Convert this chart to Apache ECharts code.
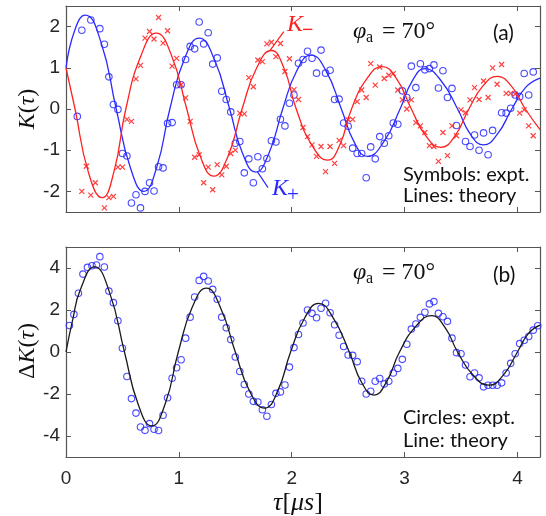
<!DOCTYPE html>
<html>
<head>
<meta charset="utf-8">
<script src="https://cdn.jsdelivr.net/npm/echarts@6/dist/echarts.min.js"></script>
<style>
  html, body { margin: 0; padding: 0; background: #fff; }
  #main { width: 546px; height: 516px; }
</style>
</head>
<body>
<div id="main"></div>
<script>
// ---- panel (a): experiment, K+ (circles) ----
var tauPlusExpt = [0.10,0.14,0.22,0.30,0.34,0.38,0.42,0.46,0.50,0.54,0.58,0.62,0.66,0.70,0.74,0.78,0.82,0.86,0.90,0.94,
  0.98,1.02,1.06,1.10,1.14,1.18,1.22,1.26,1.30,1.34,1.38,1.42,1.46,1.50,1.54,1.58,1.62,1.66,1.70,1.74,
  1.78,1.82,1.86,1.90,1.94,1.98,2.02,2.06,2.10,2.14,2.18,2.22,2.26,2.30,2.34,2.38,2.42,2.46,2.50,2.54,
  2.58,2.62,2.66,2.70,2.74,2.78,2.82,2.86,2.90,2.94,2.98,3.02,3.06,3.10,3.14,3.18,3.22,3.26,3.30,3.34,
  3.38,3.42,3.46,3.54,3.58,3.62,3.66,3.70,3.74,3.78,3.86,3.90,3.94,3.98,4.02,4.06,4.10,4.14];
var kPlusExpt = [-0.18,1.91,2.16,1.95,1.57,0.78,0.11,-0.01,-1.08,-1.14,-2.28,-2.08,-2.40,-2.0,-1.79,-1.99,-1.40,-1.43,-0.35,-0.33,
  0.59,0.59,1.20,1.52,1.46,2.11,1.58,1.85,1.09,1.24,0.43,0.23,-0.07,-0.83,-0.79,-1.55,-1.21,-1.79,-1.16,-1.45,
  -1.20,-0.77,-0.80,-0.25,-0.41,0.14,0.34,1.11,1.20,1.40,1.23,0.87,1.43,0.87,0.94,0.23,0.24,-0.34,-0.42,-0.95,
  -1.08,-1.08,-1.67,-0.92,-1.21,-0.67,-0.83,-0.65,-0.34,-0.37,0.44,0.28,1.04,0.52,1.10,0.95,0.98,1.07,0.51,0.93,
  0.28,0.50,-0.40,-0.79,-0.91,-0.63,-1.0,-0.58,-1.11,-0.52,-0.09,-0.10,0.02,0.34,0.30,0.86,0.34,0.90];

// ---- panel (a): experiment, K- (crosses) ----
var tauMinusExpt = [0.14,0.18,0.22,0.26,0.34,0.38,0.42,0.46,0.50,0.54,0.58,0.62,0.66,0.70,0.74,0.78,0.82,0.86,0.90,0.94,
  0.98,1.02,1.06,1.10,1.14,1.18,1.22,1.26,1.30,1.34,1.38,1.42,1.46,1.50,1.54,1.58,1.62,1.66,1.70,1.74,
  1.78,1.82,1.86,1.90,1.94,1.98,2.02,2.06,2.10,2.14,2.18,2.22,2.26,2.30,2.34,2.38,2.42,2.46,2.50,2.54,
  2.58,2.62,2.66,2.70,2.74,2.78,2.82,2.86,2.90,2.94,2.98,3.02,3.06,3.10,3.14,3.18,3.22,3.26,3.30,3.34,
  3.38,3.42,3.46,3.50,3.54,3.58,3.62,3.66,3.70,3.74,3.78,3.82,3.86,3.90,3.94,3.98,4.02,4.06,4.10,4.14];
var kMinusExpt = [-2.0,-1.39,-2.09,-1.79,-2.40,-2.15,-2.12,-1.41,-1.41,-0.25,-0.30,0.73,1.06,1.72,1.88,1.70,2.22,1.60,1.90,1.04,
  1.23,0.59,0.27,-0.30,-1.17,-1.11,-1.79,-1.41,-1.96,-1.35,-1.60,-1.39,-1.08,-1.0,-0.10,-0.12,0.76,0.54,1.19,1.15,
  1.58,1.62,1.27,1.59,0.91,1.22,0.47,0.23,-0.45,-0.67,-0.87,-1.15,-0.91,-1.52,-0.91,-1.32,-0.76,-0.89,-0.26,-0.25,
  0.18,0.46,0.28,1.10,0.58,1.02,0.74,0.82,0.86,0.46,0.22,0.0,0.22,-0.33,-0.41,-0.57,-0.89,-0.91,-1.27,-0.57,
  -1.13,-0.41,-0.65,-0.02,-0.09,0.22,0.52,0.23,0.68,0.28,1.00,0.60,1.08,0.38,0.38,0.36,-0.10,-0.02,-0.41,-0.65];

// ---- panel (a): theory curves ----
var tauPlusTheory = [0,0.08,0.17,0.31,0.445,0.57,0.69,0.805,0.92,1.05,1.18,1.315,1.45,1.565,1.68,1.80,1.92,2.045,
  2.17,2.305,2.44,2.555,2.67,2.815,2.96,3.07,3.18,3.325,3.47,3.585,3.70,3.825,3.95,4.075,4.2];
var kPlusTheory = [1.0,1.93,2.28,1.62,0,-1.42,-2.0,-1.40,0,1.22,1.72,1.2,0,-1.08,-1.53,-1.06,0,0.93,
  1.31,0.92,0,-0.81,-1.15,-0.8,0,0.69,0.98,0.68,0,-0.62,-0.87,-0.6,0,0.53,0.75];
var tauMinusTheory = [0,0.08,0.20,0.32,0.425,0.53,0.665,0.80,0.935,1.07,1.19,1.31,1.435,1.56,1.69,1.82,1.93,2.04,
  2.18,2.32,2.425,2.53,2.665,2.80,2.93,3.06,3.19,3.32,3.445,3.57,3.695,3.82,3.945,4.07,4.2];
var kMinusTheory = [1.0,0,-1.55,-2.15,-1.52,0,1.3,1.84,1.3,0,-1.15,-1.63,-1.15,0,1.0,1.42,1.0,0,
  -0.88,-1.24,-0.88,0,0.73,1.03,0.73,0,-0.66,-0.93,-0.66,0,0.56,0.79,0.56,0,-0.5];

// ---- panel (b): experiment and theory of the difference ----
var tauDiffExpt = [0.03,0.07,0.11,0.15,0.19,0.23,0.27,0.30,0.34,0.38,0.42,0.46,0.50,0.54,0.58,0.62,0.66,0.70,0.74,0.78,
  0.82,0.86,0.90,0.94,0.98,1.02,1.06,1.10,1.14,1.18,1.22,1.26,1.30,1.34,1.38,1.42,1.46,1.50,1.54,1.58,
  1.62,1.66,1.70,1.74,1.78,1.82,1.86,1.90,1.94,1.98,2.02,2.06,2.10,2.14,2.18,2.22,2.26,2.30,2.34,2.38,
  2.42,2.46,2.50,2.54,2.58,2.62,2.66,2.70,2.74,2.78,2.82,2.86,2.90,2.94,2.98,3.02,3.06,3.10,3.14,3.18,
  3.22,3.26,3.30,3.34,3.38,3.42,3.46,3.50,3.54,3.58,3.62,3.66,3.70,3.74,3.78,3.82,3.86,3.90,3.94,3.98,
  4.02,4.06,4.10,4.14,4.18];
var diffExpt = [1.26,1.79,2.80,3.71,4.03,4.11,4.14,4.54,4.05,2.90,2.35,1.49,0.18,-1.17,-2.22,-2.91,-3.57,-3.73,-3.41,-3.68,
  -3.74,-3.01,-2.18,-1.25,-0.75,-0.37,0.66,1.66,2.62,3.41,3.60,3.38,2.98,2.51,1.66,1.15,0.59,-0.24,-0.93,-1.55,
  -2.0,-2.35,-2.38,-2.75,-3.06,-2.50,-1.97,-1.90,-1.57,-0.72,0.21,0.83,1.38,2.0,1.84,1.63,2.08,2.32,1.87,1.30,
  0.80,0.26,-0.14,-0.16,-0.46,-1.39,-2.0,-1.87,-1.39,-1.26,-1.52,-1.39,-1.0,-0.78,-0.35,0.37,1.09,1.33,1.65,1.89,
  2.29,2.40,1.84,1.68,1.46,0.66,-0.03,-0.08,-0.62,-1.18,-1.00,-1.23,-1.66,-1.58,-1.58,-1.58,-1.47,-1.0,-0.54,-0.08,
  0.40,0.56,0.74,1.04,1.25];
var tauDiffTheory = [0,0.06,0.126,0.253,0.385,0.518,0.64,0.76,0.88,0.995,1.12,1.244,1.37,1.50,1.63,1.76,1.875,1.99,
  2.115,2.238,2.37,2.51,2.62,2.73,2.84,2.955,3.10,3.24,3.355,3.47,3.61,3.75,3.875,4.0,4.1,4.2];
var diffTheory = [0,1.55,2.95,4.05,2.85,0,-2.5,-3.52,-2.45,0,2.15,3.04,2.1,0,-1.9,-2.67,-1.87,0,
  1.62,2.32,1.6,0,-1.45,-2.05,-1.42,0,1.22,1.73,1.2,0,-1.12,-1.58,-1.1,0,0.9,1.28];

var xTicks = [0, 1, 2, 3, 4];
var yTicksA = [-2, -1, 0, 1, 2];
var yTicksB = [-4, -2, 0, 2, 4];

function zip(xs, ys) {
    return xs.map(function (x, i) { return [x, ys[i]]; });
}

var BLUE = '#2a2aff', RED = '#ff2020', AXIS = '#555';
var SERIF = '"Liberation Serif", "DejaVu Serif", serif';
var SANS = 'Lato, "Open Sans", sans-serif';

function xAxis(grid, pos, labels) {
    return {
        type: 'value', gridIndex: grid, position: pos, min: 0, max: 4.2,
        axisLine: {show: true, onZero: false, lineStyle: {color: AXIS, width: 1.2}},
        axisTick: {show: true, inside: true, length: 5, customValues: xTicks, lineStyle: {color: AXIS}},
        axisLabel: {show: labels, customValues: xTicks, margin: 12, color: '#262626', fontSize: 19,
            fontFamily: '"Liberation Sans", Arial, sans-serif'},
        splitLine: {show: false}
    };
}
function yAxis(grid, pos, min, max, ticks, labels) {
    return {
        type: 'value', gridIndex: grid, position: pos, min: min, max: max,
        axisLine: {show: true, onZero: false, lineStyle: {color: AXIS, width: 1.2}},
        axisTick: {show: true, inside: true, length: 5, customValues: ticks, lineStyle: {color: AXIS}},
        axisLabel: {show: labels, customValues: ticks, margin: 6, color: '#262626', fontSize: 19,
            fontFamily: '"Liberation Sans", Arial, sans-serif'},
        splitLine: {show: false}
    };
}

var circleStyle = {color: 'rgba(0,0,0,0)', borderColor: BLUE, borderWidth: 1.1, opacity: 0.85};

var chart = echarts.init(document.getElementById('main'), null, {renderer: 'canvas'});
chart.setOption({
    animation: false,
    backgroundColor: '#fff',
    grid: [
        {left: 66, top: 6, width: 474, height: 206},
        {left: 66, top: 247, width: 474, height: 210}
    ],
    xAxis: [xAxis(0, 'bottom', false), xAxis(0, 'top', false), xAxis(1, 'bottom', true), xAxis(1, 'top', false)],
    yAxis: [
        yAxis(0, 'left', -2.5, 2.5, yTicksA, true), yAxis(0, 'right', -2.5, 2.5, yTicksA, false),
        yAxis(1, 'left', -5, 5, yTicksB, true), yAxis(1, 'right', -5, 5, yTicksB, false)
    ],
    series: [
        {type: 'scatter', xAxisIndex: 0, yAxisIndex: 0, symbol: 'circle', symbolSize: 6.5,
            itemStyle: circleStyle, data: zip(tauPlusExpt, kPlusExpt)},
        {type: 'scatter', xAxisIndex: 0, yAxisIndex: 0, symbol: 'path://M0,0L10,10M10,0L0,10', symbolSize: 5,
            itemStyle: {color: RED, borderColor: RED, borderWidth: 1.2, opacity: 0.85}, data: zip(tauMinusExpt, kMinusExpt)},
        {type: 'line', xAxisIndex: 0, yAxisIndex: 0, smooth: true, showSymbol: false,
            lineStyle: {color: BLUE, width: 1.3}, data: zip(tauPlusTheory, kPlusTheory)},
        {type: 'line', xAxisIndex: 0, yAxisIndex: 0, smooth: true, showSymbol: false,
            lineStyle: {color: RED, width: 1.3}, data: zip(tauMinusTheory, kMinusTheory)},
        {type: 'scatter', xAxisIndex: 2, yAxisIndex: 2, symbol: 'circle', symbolSize: 6.5,
            itemStyle: circleStyle, data: zip(tauDiffExpt, diffExpt)},
        {type: 'line', xAxisIndex: 2, yAxisIndex: 2, smooth: true, showSymbol: false,
            lineStyle: {color: '#1a1a1a', width: 1.3}, data: zip(tauDiffTheory, diffTheory)}
    ]
});

// pointer lines for the K+ / K- labels, anchored in data space
function px(p) { return chart.convertToPixel({xAxisIndex: 0, yAxisIndex: 0}, p); }
var mA = px([1.81, 1.43]), mB = px([1.93, 1.88]);
var pA = px([1.695, -1.52]), pB = px([1.79, -1.91]);

function txt(x, y, text, font, color, align) {
    return {type: 'text', x: x, y: y, z: 100,
        style: {text: text, font: font, fill: color || '#111', align: align || 'left', verticalAlign: 'middle'}};
}

chart.setOption({
    graphic: [
        // axis titles
        {type: 'text', x: 28, y: 109, rotation: Math.PI / 2, z: 100,
            style: {text: '{i|K}{n|(}{i|τ}{n|)}', align: 'center', verticalAlign: 'middle', fill: '#111',
                rich: {i: {fontFamily: SERIF, fontStyle: 'italic', fontSize: 24, fill: '#111'},
                       n: {fontFamily: SERIF, fontSize: 24, fill: '#111'}}}},
        {type: 'text', x: 28, y: 351, rotation: Math.PI / 2, z: 100,
            style: {text: '{n|Δ}{i|K}{n|(}{i|τ}{n|)}', align: 'center', verticalAlign: 'middle', fill: '#111',
                rich: {i: {fontFamily: SERIF, fontStyle: 'italic', fontSize: 24, fill: '#111'},
                       n: {fontFamily: SERIF, fontSize: 24, fill: '#111'}}}},
        {type: 'text', x: 298, y: 503, z: 100,
            style: {text: '{i|τ}{n|[}{i|μs}{n|]}', align: 'center', verticalAlign: 'middle', fill: '#111',
                rich: {i: {fontFamily: SERIF, fontStyle: 'italic', fontSize: 26, fill: '#111'},
                       n: {fontFamily: SERIF, fontSize: 26, fill: '#111'}}}},

        // panel (a) annotations
        txt(353, 32, 'φ', 'italic 24px ' + SERIF),
        txt(366, 38, 'a', '16px ' + SERIF),
        txt(382, 32, '= 70°', '24px ' + SERIF),
        txt(493, 33, '(a)', '21px ' + SANS),
        txt(403, 175, 'Symbols: expt.', '20px ' + SANS),
        txt(403, 196, 'Lines: theory', '20px ' + SANS),
        txt(287, 25, 'K', 'italic 24px ' + SERIF, RED),
        txt(302, 31, '−', 'bold 20px ' + SERIF, RED),
        txt(272, 189, 'K', 'italic 24px ' + SERIF, BLUE),
        txt(287, 195, '+', '21px ' + SERIF, BLUE),
        {type: 'line', z: 100, shape: {x1: mA[0], y1: mA[1], x2: mB[0], y2: mB[1]}, style: {stroke: RED, lineWidth: 1.2}},
        {type: 'line', z: 100, shape: {x1: pA[0], y1: pA[1], x2: pB[0], y2: pB[1]}, style: {stroke: BLUE, lineWidth: 1.2}},

        // panel (b) annotations
        txt(353, 273, 'φ', 'italic 24px ' + SERIF),
        txt(366, 279, 'a', '16px ' + SERIF),
        txt(382, 273, '= 70°', '24px ' + SERIF),
        txt(493, 275, '(b)', '21px ' + SANS),
        txt(403, 418, 'Circles: expt.', '20px ' + SANS),
        txt(403, 441, 'Line: theory', '20px ' + SANS)
    ]
});
</script>
</body>
</html>
